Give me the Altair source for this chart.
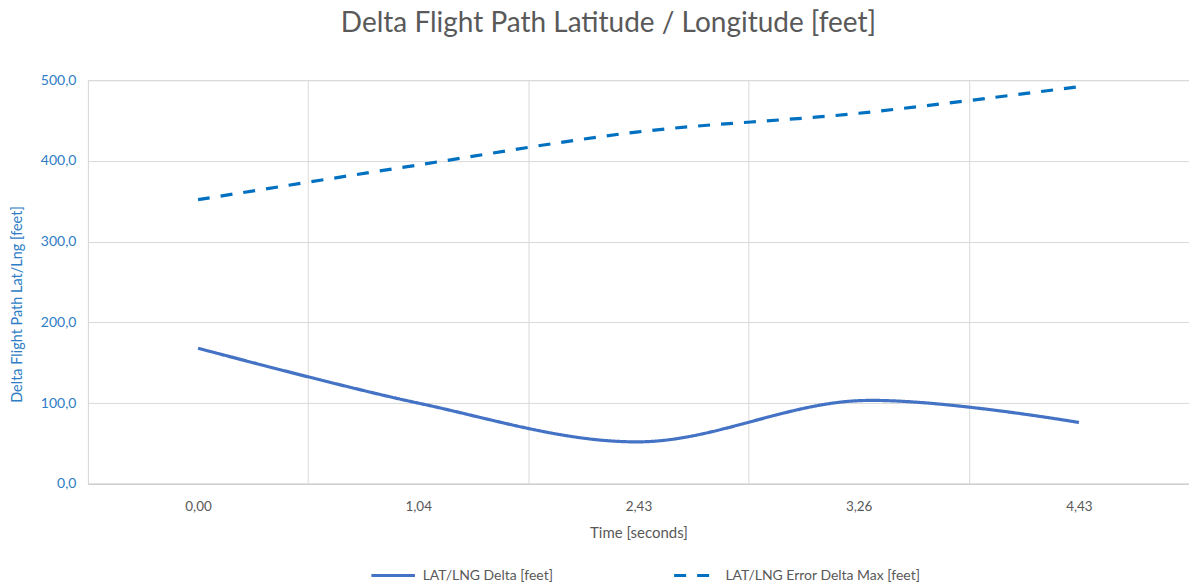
import altair as alt
import pandas as pd

# Category axis labels (time in seconds) and the two series
times = ["0,00", "1,04", "2,43", "3,26", "4,43"]
delta_feet = [168, 100, 52, 103, 76]
error_max_feet = [352, 395, 436, 459, 492]

series_names = ["LAT/LNG Delta [feet]", "LAT/LNG Error Delta Max [feet]"]

rows = []
for t, v in zip(times, delta_feet):
    rows.append({"time": t, "value": v, "series": series_names[0]})
for t, v in zip(times, error_max_feet):
    rows.append({"time": t, "value": v, "series": series_names[1]})
df = pd.DataFrame(rows)

FONT = "Lato"
GRAY = "#595959"
BLUE_TXT = "#2E7DC6"

chart = (
    alt.Chart(df)
    .mark_line(interpolate="catmull-rom", strokeWidth=3.2)
    .encode(
        x=alt.X(
            "time:O",
            sort=times,
            bandPosition=0.5,
            scale=alt.Scale(type="band", paddingInner=0, paddingOuter=0),
            axis=alt.Axis(
                title="Time [seconds]",
                titleFont=FONT,
                titleFontSize=15,
                titleFontWeight="normal",
                titleColor=GRAY,
                titlePadding=12,
                labelFont=FONT,
                labelFontSize=13.5,
                labelColor=GRAY,
                labelAngle=0,
                labelPadding=16,
                tickBand="extent",
                ticks=False,
                grid=True,
                gridColor="#d9d9d9",
                gridWidth=1,
                domainColor="#d0d0d0",
                domainWidth=1.5,
            ),
        ),
        y=alt.Y(
            "value:Q",
            scale=alt.Scale(domain=[0, 500], nice=False),
            axis=alt.Axis(
                title="Delta Flight Path Lat/Lng [feet]",
                titleFont=FONT,
                titleFontSize=14.5,
                titleFontWeight="normal",
                titleColor=BLUE_TXT,
                titlePadding=16,
                titleY=224,
                labelFont=FONT,
                labelFontSize=14,
                labelColor=BLUE_TXT,
                labelPadding=12,
                labelExpr="replace(format(datum.value, '.1f'), '.', ',')",
                values=[0, 100, 200, 300, 400, 500],
                ticks=False,
                domain=False,
                grid=True,
                gridColor="#d9d9d9",
                gridWidth=1,
            ),
        ),
        color=alt.Color(
            "series:N",
            scale=alt.Scale(domain=series_names, range=["#4472C4", "#0070C0"]),
            legend=alt.Legend(
                title=None,
                orient="none",
                legendX=282,
                legendY=472,
                direction="horizontal",
                columnPadding=114,
                symbolType="stroke",
                symbolSize=1900,
                symbolStrokeWidth=3.2,
                labelFont=FONT,
                labelFontSize=14,
                labelColor=GRAY,
                labelOffset=6,
                labelLimit=400,
            ),
        ),
        strokeDash=alt.StrokeDash(
            "series:N",
            scale=alt.Scale(domain=series_names, range=[[1, 0], [12, 11]]),
            legend=None,
        ),
    )
    .properties(
        width=1102,
        height=404,
        title=alt.TitleParams(
            "Delta Flight Path Latitude / Longitude [feet]",
            font=FONT,
            fontSize=28,
            fontWeight="normal",
            color=GRAY,
            anchor="middle",
            dx=-30,
            offset=35,
        ),
        autosize="none",
        padding={"left": 88, "top": 80, "right": 0, "bottom": 103},
    )
    .configure_view(stroke=None)
    .configure(background="white")
)

chart.save("out.html", embed_options={"renderer": "svg", "actions": False})
